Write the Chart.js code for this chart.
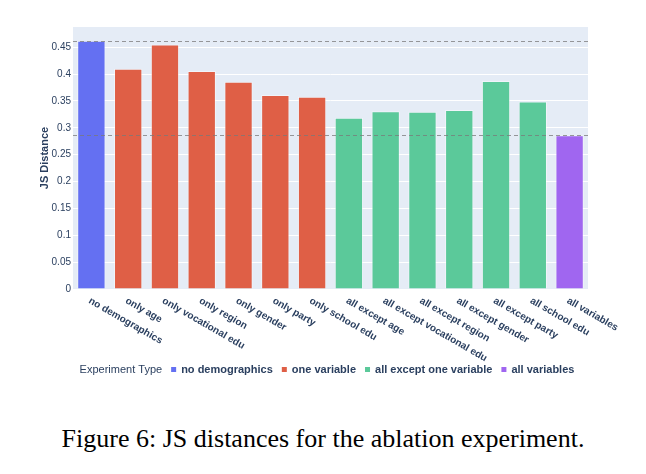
<!DOCTYPE html>
<html>
<head>
<meta charset="utf-8">
<script src="https://cdn.jsdelivr.net/npm/chart.js@4.4.1/dist/chart.umd.min.js"></script>
<style>
  html, body { margin: 0; padding: 0; background: #fff; }
  #wrap { position: relative; width: 646px; height: 474px; }
  #chart { position: absolute; left: 0; top: 0; }
  #caption {
    position: absolute; left: 0; top: 426px; width: 646px; text-align: center;
    font-family: "Liberation Serif", "Times New Roman", serif; font-size: 26px; line-height: 26px; color: #000;
  }
</style>
</head>
<body>
<div id="wrap">
  <canvas id="chart" width="646" height="400"></canvas>
  <div id="caption">Figure 6: JS distances for the ablation experiment.</div>
</div>
<script>
const categories = ['no demographics', 'only age', 'only vocational edu', 'only region', 'only gender',
    'only party', 'only school edu', 'all except age', 'all except vocational edu', 'all except region',
    'all except gender', 'all except party', 'all school edu', 'all variables'];
const jsDistance = [0.462, 0.410, 0.455, 0.406, 0.386, 0.361, 0.358, 0.319, 0.331, 0.330, 0.333, 0.387, 0.349, 0.286];
const groupOf = [0, 1, 1, 1, 1, 1, 1, 2, 2, 2, 2, 2, 2, 3];
const groupNames = ['no demographics', 'one variable', 'all except one variable', 'all variables'];
const groupColors = ['#6470f2', '#df5f46', '#5bc99a', '#a066f0'];
const refLines = [0.462, 0.2865];
const yTicks = [0, 0.05, 0.1, 0.15, 0.2, 0.25, 0.3, 0.35, 0.4, 0.45];

const textColor = '#2a3f5f';
const sans = 'Arial, "Liberation Sans", sans-serif';

// one dataset per experiment type, null where the bar belongs to another type
const datasets = groupNames.map(function(name, g) {
    return {
        label: name,
        data: jsDistance.map(function(v, i) { return groupOf[i] === g ? v : null; }),
        backgroundColor: groupColors[g],
        borderColor: 'rgba(255,255,255,0.45)',
        borderWidth: 1,
        barPercentage: 0.77,
        categoryPercentage: 1,
    };
});

const extras = {
    id: 'extras',
    afterDatasetsDraw: function(chart) {
        const c = chart.ctx, area = chart.chartArea, y = chart.scales.y, x = chart.scales.x;
        // dashed reference lines
        c.save();
        c.strokeStyle = 'rgba(120,120,120,0.75)';
        c.lineWidth = 1;
        c.setLineDash([4, 3]);
        refLines.forEach(function(v) {
            const py = Math.round(y.getPixelForValue(v)) + 0.5;
            c.beginPath();
            c.moveTo(area.left, py);
            c.lineTo(area.right, py);
            c.stroke();
        });
        c.restore();

        // rotated category labels (text runs down to the right)
        c.save();
        c.fillStyle = textColor;
        c.font = 'bold 10px ' + sans;
        c.textAlign = 'left';
        c.textBaseline = 'middle';
        categories.forEach(function(lab, i) {
            const px = x.getPixelForTick(i);
            c.save();
            c.translate(px - 2, area.bottom + 11);
            c.rotate(Math.PI / 6);
            c.fillText(lab, 0, 0);
            c.restore();
        });
        c.restore();

        // legend
        c.save();
        c.textBaseline = 'middle';
        c.textAlign = 'left';
        const ly = 370;
        c.font = '11px ' + sans;
        const titleW = c.measureText('Experiment Type').width;
        c.font = 'bold 11px ' + sans;
        const itemW = groupNames.map(function(n) { return c.measureText(n).width; });
        let total = titleW;
        itemW.forEach(function(w) { total += 9 + 5 + 5 + w; });
        let lx = 327 - total / 2;
        c.fillStyle = textColor;
        c.font = '11px ' + sans;
        c.fillText('Experiment Type', lx, ly);
        lx += titleW;
        c.font = 'bold 11px ' + sans;
        groupNames.forEach(function(n, g) {
            lx += 9;
            c.fillStyle = groupColors[g];
            c.fillRect(lx, ly - 3, 5, 5);
            lx += 5 + 5;
            c.fillStyle = textColor;
            c.fillText(n, lx, ly);
            lx += itemW[g];
        });
        c.restore();
    }
};

const ctx = document.getElementById('chart').getContext('2d');
const ablationChart = new Chart(ctx, {
    type: 'bar',
    data: {
        labels: categories,
        datasets: datasets
    },
    options: {
        responsive: false,
        animation: false,
        layout: {
            padding: { left: 0, right: 58, top: 27, bottom: 0 }
        },
        scales: {
            x: {
                stacked: true,
                grid: { display: false, drawTicks: false },
                border: { display: false },
                ticks: { display: false },
                afterFit: function(scale) { scale.height = 111; }
            },
            y: {
                min: 0,
                max: 0.4877,
                afterBuildTicks: function(scale) {
                    scale.ticks = yTicks.map(function(v) { return { value: v }; });
                },
                grid: { color: '#ffffff', lineWidth: 1, drawTicks: false },
                border: { display: false },
                ticks: {
                    color: textColor,
                    font: { family: sans, size: 10 },
                    padding: 2,
                    callback: function(v) { return String(Math.round(v * 100) / 100); }
                },
                title: {
                    display: true,
                    text: 'JS Distance',
                    color: textColor,
                    font: { family: sans, size: 11, weight: 'bold' },
                    padding: { top: 38, bottom: 0 }
                },
                afterFit: function(scale) { scale.width = 73; }
            }
        },
        plugins: {
            legend: { display: false },
            tooltip: { enabled: false }
        }
    },
    plugins: [{
        id: 'plotBg',
        beforeDraw: function(chart) {
            const a = chart.chartArea;
            chart.ctx.save();
            chart.ctx.fillStyle = '#e5ecf6';
            chart.ctx.fillRect(a.left, a.top, a.right - a.left, a.bottom - a.top);
            chart.ctx.restore();
        }
    }, extras]
});
</script>
</body>
</html>
